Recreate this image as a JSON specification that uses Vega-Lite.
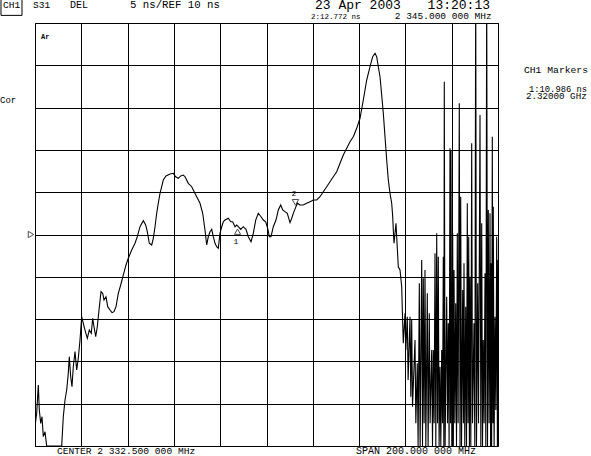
{
"$schema": "https://vega.github.io/schema/vega-lite/v6.json",
"width": 463, "height": 423,
"autosize": {"type": "none"},
"padding": {"left": 35, "top": 23, "right": 93, "bottom": 10},
"background": "white",
"config": {"view": {"stroke": "black", "strokeWidth": 1}, "axis": {"grid": true, "gridColor": "black", "gridOpacity": 1, "gridWidth": 1, "labels": false, "ticks": false, "domain": false}, "text": {"font": "Liberation Mono", "color": "black", "baseline": "alphabetic", "align": "left"}},
"datasets": {"trace": [
{"f":2232.5,"d":-12.72},{"f":2233.23,"d":-11.13},{"f":2233.93,"d":-7.79},{"f":2234.36,"d":-10.74},{"f":2234.96,"d":-12.32},{"f":2235.52,"d":-11.54},{"f":2236.09,"d":-13.9},{"f":2236.82,"d":-13.31},{"f":2237.55,"d":-15},{"f":2244.03,"d":-15},{"f":2244.72,"d":-11.54},{"f":2245.46,"d":-9.56},{"f":2246.19,"d":-8.38},{"f":2246.88,"d":-6.41},{"f":2247.32,"d":-4.44},{"f":2247.92,"d":-6.81},{"f":2248.48,"d":-7.99},{"f":2249.04,"d":-5.63},{"f":2249.78,"d":-3.85},{"f":2250.51,"d":-6.02},{"f":2251.2,"d":-4.63},{"f":2251.94,"d":-2.47},{"f":2252.67,"d":0.28},{"f":2253.36,"d":-0.5},{"f":2254.1,"d":-1.29},{"f":2255.09,"d":-2.27},{"f":2255.96,"d":-1.29},{"f":2256.82,"d":-1.68},{"f":2257.42,"d":0.1},{"f":2257.99,"d":-0.9},{"f":2258.72,"d":-2.08},{"f":2259.41,"d":-0.9},{"f":2260.15,"d":1.08},{"f":2261.01,"d":3.24},{"f":2261.74,"d":3.05},{"f":2262.31,"d":2.26},{"f":2263.17,"d":2.65},{"f":2263.9,"d":1.47},{"f":2264.9,"d":1.08},{"f":2265.76,"d":0.76},{"f":2266.63,"d":0.88},{"f":2267.49,"d":1.47},{"f":2268.48,"d":3.05},{"f":2269.52,"d":4.03},{"f":2270.64,"d":5.21},{"f":2271.81,"d":6.4},{"f":2272.8,"d":7.19},{"f":2274.27,"d":8.17},{"f":2275.7,"d":8.96},{"f":2276.69,"d":9.74},{"f":2277.86,"d":10.92},{"f":2279.28,"d":11.63},{"f":2280.32,"d":11.12},{"f":2281.01,"d":10.33},{"f":2281.87,"d":8.96},{"f":2282.91,"d":8.76},{"f":2283.6,"d":9.55},{"f":2284.34,"d":10.92},{"f":2285.07,"d":12.51},{"f":2285.76,"d":13.69},{"f":2286.5,"d":14.87},{"f":2287.23,"d":15.65},{"f":2287.92,"d":16.44},{"f":2289.09,"d":16.92},{"f":2290.82,"d":17.15},{"f":2292.24,"d":17.23},{"f":2293.28,"d":16.83},{"f":2294.4,"d":16.64},{"f":2295.44,"d":16.92},{"f":2296.56,"d":17.03},{"f":2297.3,"d":16.83},{"f":2298.72,"d":16.05},{"f":2300.19,"d":15.65},{"f":2300.88,"d":15.26},{"f":2302.35,"d":14.47},{"f":2303.78,"d":13.69},{"f":2304.94,"d":12.51},{"f":2305.93,"d":10.53},{"f":2306.67,"d":8.76},{"f":2307.36,"d":9.74},{"f":2308.09,"d":10.33},{"f":2308.83,"d":10.61},{"f":2309.52,"d":9.74},{"f":2310.25,"d":8.96},{"f":2310.99,"d":8.56},{"f":2311.68,"d":8.37},{"f":2312.41,"d":10.14},{"f":2313.15,"d":10.92},{"f":2313.84,"d":11.51},{"f":2314.57,"d":11.71},{"f":2316.0,"d":11.92},{"f":2317.04,"d":11.51},{"f":2317.9,"d":11.51},{"f":2318.89,"d":10.92},{"f":2319.63,"d":11.12},{"f":2320.62,"d":10.85},{"f":2321.36,"d":10.61},{"f":2322.48,"d":10.92},{"f":2323.65,"d":10.61},{"f":2324.64,"d":9.74},{"f":2325.81,"d":9.15},{"f":2326.8,"d":10.14},{"f":2327.84,"d":11.71},{"f":2328.96,"d":12.51},{"f":2330.13,"d":12.1},{"f":2331.12,"d":11.71},{"f":2332.15,"d":11.51},{"f":2333.02,"d":10.73},{"f":2333.71,"d":9.74},{"f":2334.44,"d":9.74},{"f":2335.44,"d":10.92},{"f":2336.6,"d":11.71},{"f":2337.6,"d":12.9},{"f":2338.64,"d":13.49},{"f":2339.5,"d":12.9},{"f":2340.49,"d":12.7},{"f":2341.48,"d":12.51},{"f":2342.65,"d":11.4},{"f":2343.39,"d":11.92},{"f":2344.08,"d":12.5},{"f":2344.81,"d":13.0},{"f":2345.81,"d":13.7},{"f":2346.97,"d":13.49},{"f":2348.4,"d":13.49},{"f":2349.87,"d":13.69},{"f":2351.29,"d":13.88},{"f":2352.72,"d":14.08},{"f":2354.19,"d":14.08},{"f":2355.61,"d":14.47},{"f":2357.04,"d":15.06},{"f":2358.51,"d":15.65},{"f":2359.93,"d":16.24},{"f":2361.36,"d":16.83},{"f":2362.83,"d":17.42},{"f":2364.25,"d":18.42},{"f":2365.68,"d":19.4},{"f":2367.14,"d":20.19},{"f":2368.57,"d":20.97},{"f":2370.0,"d":21.56},{"f":2371.46,"d":22.55},{"f":2372.89,"d":23.74},{"f":2374.32,"d":25.9},{"f":2375.78,"d":28.26},{"f":2377.21,"d":29.83},{"f":2378.37,"d":31.02},{"f":2379.37,"d":31.42},{"f":2380.1,"d":31.02},{"f":2380.8,"d":29.83},{"f":2381.53,"d":28.65},{"f":2382.26,"d":26.49},{"f":2382.96,"d":24.33},{"f":2383.69,"d":21.56},{"f":2384.42,"d":18.81},{"f":2385.12,"d":16.44},{"f":2385.85,"d":14.87},{"f":2386.58,"d":13.69},{"f":2387.02,"d":12.1},{"f":2387.27,"d":10.53},{"f":2387.58,"d":8.96},{"f":2388.01,"d":10.14},{"f":2388.44,"d":11.32},{"f":2388.74,"d":9.74},{"f":2389.43,"d":6.19},{"f":2390.17,"d":5.8},{"f":2390.9,"d":3.83},{"f":2391.33,"d":-0.5},{"f":2391.59,"d":-2.86},
{"f":2392.33,"d":0.69},{"f":2392.68,"d":-3.65},{"f":2393.32,"d":0.28},{"f":2393.67,"d":-7.2},{"f":2394.49,"d":0.28},{"f":2394.84,"d":-9.17},{"f":2395.22,"d":-0.11},{"f":2395.57,"d":-10.35},{"f":2396.65,"d":-2.47},{"f":2397.0,"d":-12.32},{"f":2397.64,"d":-5.22},{"f":2397.99,"d":-15},{"f":2398.51,"d":4.23},{"f":2398.86,"d":-15},{"f":2399.54,"d":6.99},{"f":2399.89,"d":-15},{"f":2400.23,"d":4.82},{"f":2400.58,"d":-12.32},{"f":2400.97,"d":5.8},{"f":2401.32,"d":-15},{"f":2401.96,"d":3.05},{"f":2402.31,"d":-15},{"f":2402.82,"d":0.69},{"f":2403.17,"d":-12.32},{"f":2403.86,"d":-3.65},{"f":2404.21,"d":-15},{"f":2404.55,"d":-3.65},{"f":2404.9,"d":-12.32},{"f":2405.29,"d":7.78},{"f":2405.64,"d":-15},{"f":2406.02,"d":10.14},{"f":2406.37,"d":-12.32},{"f":2406.71,"d":7.38},{"f":2407.06,"d":-15},{"f":2407.45,"d":-5.63},{"f":2407.8,"d":-15},{"f":2408.18,"d":-3.65},{"f":2408.53,"d":-12.32},{"f":2408.87,"d":7.38},{"f":2409.1,"d":-15},{"f":2409.3,"d":28.06},{"f":2409.65,"d":-15},{"f":2410.34,"d":2.65},{"f":2410.69,"d":-12.32},{"f":2411.03,"d":-0.5},{"f":2411.38,"d":-15},{"f":2411.77,"d":20.19},{"f":2412.0,"d":-12.32},{"f":2412.2,"d":19.99},{"f":2412.55,"d":-15},{"f":2412.93,"d":10.14},{"f":2413.2,"d":-15},{"f":2413.5,"d":5.8},{"f":2413.85,"d":-12.32},{"f":2414.23,"d":1.87},{"f":2414.58,"d":-15},{"f":2414.92,"d":10.14},{"f":2415.27,"d":-12.32},{"f":2415.78,"d":25.51},{"f":2416.1,"d":-15},{"f":2416.39,"d":14.47},{"f":2416.74,"d":-15},{"f":2417.25,"d":3.44},{"f":2417.55,"d":-12.32},{"f":2417.81,"d":6.6},{"f":2418.16,"d":-15},{"f":2418.55,"d":1.47},{"f":2418.9,"d":-15},{"f":2419.24,"d":13.69},{"f":2419.55,"d":-12.32},{"f":2419.85,"d":9.74},{"f":2420.15,"d":-15},{"f":2420.41,"d":5.01},{"f":2420.76,"d":-15},{"f":2421.14,"d":20.78},{"f":2421.49,"d":-12.32},{"f":2422.13,"d":-0.5},{"f":2422.48,"d":-15},{"f":2422.87,"d":40},{"f":2423.2,"d":-15},{"f":2423.73,"d":4.23},{"f":2424.08,"d":-12.32},{"f":2424.73,"d":24.13},{"f":2425.08,"d":-15},{"f":2425.46,"d":11.32},{"f":2425.81,"d":-15},{"f":2426.15,"d":-2.47},{"f":2426.5,"d":-12.32},{"f":2426.89,"d":5.41},{"f":2427.24,"d":-15},{"f":2427.62,"d":40},{"f":2427.97,"d":-15},{"f":2428.31,"d":12.9},{"f":2428.66,"d":-12.32},{"f":2429.05,"d":12.51},{"f":2429.3,"d":-15},{"f":2429.48,"d":6.6},{"f":2429.75,"d":-15},{"f":2430.04,"d":21.56},{"f":2430.3,"d":-12.32},{"f":2430.47,"d":13.29},{"f":2430.82,"d":-15},{"f":2431.21,"d":0.28},{"f":2431.56,"d":-10.74},{"f":2431.94,"d":9.74},{"f":2432.25,"d":-15},{"f":2432.5,"d":6.99}
]},
"layer": [
{"data": {"name": "trace"}, "mark": {"type": "line", "color": "black", "strokeWidth": 1.1, "clip": true},
 "encoding": {
  "x": {"field": "f", "type": "quantitative", "title": null, "scale": {"domain": [2232.5, 2432.5], "nice": false, "zero": false}, "axis": {"values": [2232.5, 2252.5, 2272.5, 2292.5, 2312.5, 2332.5, 2352.5, 2372.5, 2392.5, 2412.5, 2432.5]}},
  "y": {"field": "d", "type": "quantitative", "title": null, "scale": {"domain": [-15, 35], "nice": false, "zero": false}, "axis": {"values": [-15, -10, -5, 0, 5, 10, 15, 20, 25, 30, 35]}}}},
{"data": {"values": [{"t": "box"}]}, "mark": {"type": "rect", "fillOpacity": 0, "stroke": "black", "strokeWidth": 1},
 "encoding": {"x": {"datum": 2217.81, "type": "quantitative", "title": null}, "x2": {"datum": 2226.88}, "y": {"datum": 38.2, "type": "quantitative", "title": null}, "y2": {"datum": 35.9}}},
{"data": {"values": [{"t": "CH1"}]}, "mark": {"type": "text", "fontSize": 9.5},
 "encoding": {"x": {"datum": 2218.68, "type": "quantitative", "title": null}, "y": {"datum": 36.8, "type": "quantitative", "title": null}, "text": {"field": "t"}}},
{"data": {"values": [{"t": "S31"}]}, "mark": {"type": "text", "fontSize": 9.5},
 "encoding": {"x": {"datum": 2231.64, "type": "quantitative", "title": null}, "y": {"datum": 36.8, "type": "quantitative", "title": null}, "text": {"field": "t"}}},
{"data": {"values": [{"t": "DEL"}]}, "mark": {"type": "text", "fontSize": 10},
 "encoding": {"x": {"datum": 2247.62, "type": "quantitative", "title": null}, "y": {"datum": 36.8, "type": "quantitative", "title": null}, "text": {"field": "t"}}},
{"data": {"values": [{"t": "5 ns/REF 10 ns"}]}, "mark": {"type": "text", "fontSize": 10.7},
 "encoding": {"x": {"datum": 2273.54, "type": "quantitative", "title": null}, "y": {"datum": 36.8, "type": "quantitative", "title": null}, "text": {"field": "t"}}},
{"data": {"values": [{"t": "23 Apr 2003"}]}, "mark": {"type": "text", "fontSize": 13},
 "encoding": {"x": {"datum": 2353.45, "type": "quantitative", "title": null}, "y": {"datum": 36.62, "type": "quantitative", "title": null}, "text": {"field": "t"}}},
{"data": {"values": [{"t": "13:20:13"}]}, "mark": {"type": "text", "fontSize": 13, "align": "right"},
 "encoding": {"x": {"datum": 2429.05, "type": "quantitative", "title": null}, "y": {"datum": 36.62, "type": "quantitative", "title": null}, "text": {"field": "t"}}},
{"data": {"values": [{"t": "2:12.772 ns"}]}, "mark": {"type": "text", "fontSize": 7.5},
 "encoding": {"x": {"datum": 2351.72, "type": "quantitative", "title": null}, "y": {"datum": 35.52, "type": "quantitative", "title": null}, "text": {"field": "t"}}},
{"data": {"values": [{"t": "2 345.000 000 MHz"}]}, "mark": {"type": "text", "fontSize": 9.5, "align": "right"},
 "encoding": {"x": {"datum": 2429.77, "type": "quantitative", "title": null}, "y": {"datum": 35.52, "type": "quantitative", "title": null}, "text": {"field": "t"}}},
{"data": {"values": [{"t": "CH1 Markers"}]}, "mark": {"type": "text", "fontSize": 9.7},
 "encoding": {"x": {"datum": 2443.73, "type": "quantitative", "title": null}, "y": {"datum": 29.05, "type": "quantitative", "title": null}, "text": {"field": "t"}}},
{"data": {"values": [{"t": "1:10.986 ns"}]}, "mark": {"type": "text", "fontSize": 8.8},
 "encoding": {"x": {"datum": 2445.89, "type": "quantitative", "title": null}, "y": {"datum": 26.9, "type": "quantitative", "title": null}, "text": {"field": "t"}}},
{"data": {"values": [{"t": "2.32000 GHz"}]}, "mark": {"type": "text", "fontSize": 9.2},
 "encoding": {"x": {"datum": 2444.6, "type": "quantitative", "title": null}, "y": {"datum": 26.05, "type": "quantitative", "title": null}, "text": {"field": "t"}}},
{"data": {"values": [{"t": "Cor"}]}, "mark": {"type": "text", "fontSize": 9},
 "encoding": {"x": {"datum": 2217.38, "type": "quantitative", "title": null}, "y": {"datum": 25.51, "type": "quantitative", "title": null}, "text": {"field": "t"}}},
{"data": {"values": [{"t": "Ar"}]}, "mark": {"type": "text", "fontSize": 7, "fontWeight": "bold"},
 "encoding": {"x": {"datum": 2235.09, "type": "quantitative", "title": null}, "y": {"datum": 33.11, "type": "quantitative", "title": null}, "text": {"field": "t"}}},
{"data": {"values": [{"t": "CENTER 2 332.500 000 MHz"}]}, "mark": {"type": "text", "fontSize": 9.6},
 "encoding": {"x": {"datum": 2242.0, "type": "quantitative", "title": null}, "y": {"datum": -16.0, "type": "quantitative", "title": null}, "text": {"field": "t"}}},
{"data": {"values": [{"t": "SPAN 200.000 000 MHz"}]}, "mark": {"type": "text", "fontSize": 10},
 "encoding": {"x": {"datum": 2371.16, "type": "quantitative", "title": null}, "y": {"datum": -16.0, "type": "quantitative", "title": null}, "text": {"field": "t"}}},
{"data": {"values": [{"t": "ref"}]}, "mark": {"type": "point", "shape": "triangle-right", "filled": false, "stroke": "black", "strokeWidth": 1, "size": 40, "clip": false},
 "encoding": {"x": {"datum": 2230.77, "type": "quantitative", "title": null}, "y": {"datum": 10, "type": "quantitative", "title": null}}},
{"data": {"values": [{"t": "m1"}]}, "mark": {"type": "point", "shape": "triangle-up", "filled": false, "stroke": "black", "strokeWidth": 1, "size": 38},
 "encoding": {"x": {"datum": 2320, "type": "quantitative", "title": null}, "y": {"datum": 10.33, "type": "quantitative", "title": null}}},
{"data": {"values": [{"t": "m2"}]}, "mark": {"type": "point", "shape": "triangle-down", "filled": false, "stroke": "black", "strokeWidth": 1, "size": 42},
 "encoding": {"x": {"datum": 2345, "type": "quantitative", "title": null}, "y": {"datum": 13.8, "type": "quantitative", "title": null}}},
{"data": {"values": [{"t": "1"}]}, "mark": {"type": "text", "fontSize": 8, "align": "center"},
 "encoding": {"x": {"datum": 2319.33, "type": "quantitative", "title": null}, "y": {"datum": 8.84, "type": "quantitative", "title": null}, "text": {"field": "t"}}},
{"data": {"values": [{"t": "2"}]}, "mark": {"type": "text", "fontSize": 8, "align": "center"},
 "encoding": {"x": {"datum": 2344.38, "type": "quantitative", "title": null}, "y": {"datum": 14.6, "type": "quantitative", "title": null}, "text": {"field": "t"}}}
]
}
